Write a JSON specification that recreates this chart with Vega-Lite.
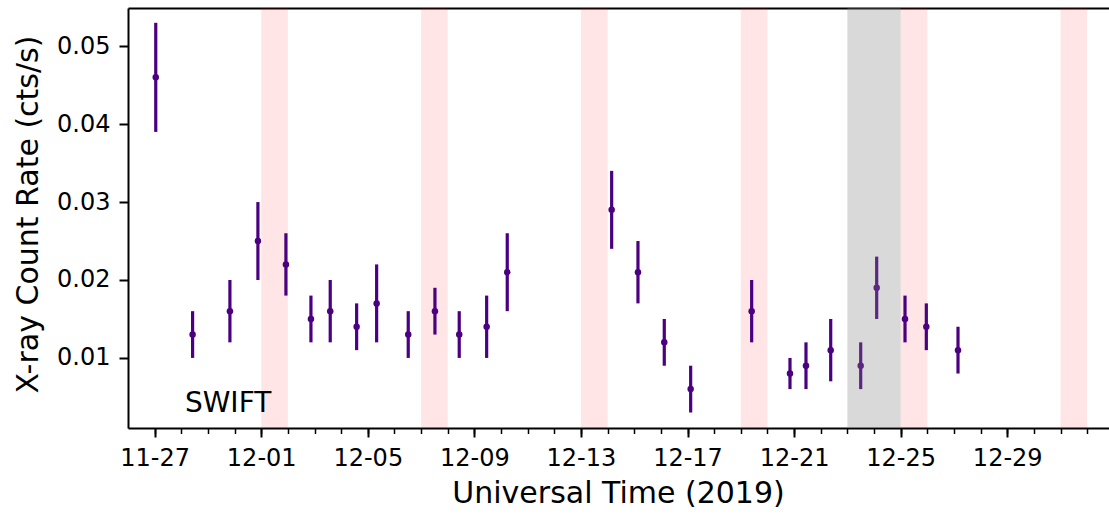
{
  "$schema": "https://vega.github.io/schema/vega-lite/v6.json",
  "width": 981,
  "height": 420,
  "autosize": {"type": "none"},
  "padding": {"left": 128, "top": 8, "right": 0, "bottom": 86},
  "background": "white",
  "config": {"view": {"stroke": null}, "font": "DejaVu Sans"},
  "datasets": {
    "points": [
      {"date": "2019-11-27T01:00:00Z", "rate": 0.046, "lo": 0.039, "hi": 0.053},
      {"date": "2019-11-28T10:12:00Z", "rate": 0.013, "lo": 0.010, "hi": 0.016},
      {"date": "2019-11-29T19:48:00Z", "rate": 0.016, "lo": 0.012, "hi": 0.020},
      {"date": "2019-11-30T21:01:00Z", "rate": 0.025, "lo": 0.020, "hi": 0.030},
      {"date": "2019-12-01T22:15:00Z", "rate": 0.022, "lo": 0.018, "hi": 0.026},
      {"date": "2019-12-02T20:47:00Z", "rate": 0.015, "lo": 0.012, "hi": 0.018},
      {"date": "2019-12-03T14:10:00Z", "rate": 0.016, "lo": 0.012, "hi": 0.020},
      {"date": "2019-12-04T13:57:00Z", "rate": 0.014, "lo": 0.011, "hi": 0.017},
      {"date": "2019-12-05T07:58:00Z", "rate": 0.017, "lo": 0.012, "hi": 0.022},
      {"date": "2019-12-06T12:26:00Z", "rate": 0.013, "lo": 0.010, "hi": 0.016},
      {"date": "2019-12-07T12:29:00Z", "rate": 0.016, "lo": 0.013, "hi": 0.019},
      {"date": "2019-12-08T10:22:00Z", "rate": 0.013, "lo": 0.010, "hi": 0.016},
      {"date": "2019-12-09T11:04:00Z", "rate": 0.014, "lo": 0.010, "hi": 0.018},
      {"date": "2019-12-10T05:37:00Z", "rate": 0.021, "lo": 0.016, "hi": 0.026},
      {"date": "2019-12-14T03:40:00Z", "rate": 0.029, "lo": 0.024, "hi": 0.034},
      {"date": "2019-12-15T03:22:00Z", "rate": 0.021, "lo": 0.017, "hi": 0.025},
      {"date": "2019-12-16T03:04:00Z", "rate": 0.012, "lo": 0.009, "hi": 0.015},
      {"date": "2019-12-17T02:50:00Z", "rate": 0.006, "lo": 0.003, "hi": 0.009},
      {"date": "2019-12-19T09:47:00Z", "rate": 0.016, "lo": 0.012, "hi": 0.020},
      {"date": "2019-12-20T20:18:00Z", "rate": 0.008, "lo": 0.006, "hi": 0.010},
      {"date": "2019-12-21T10:43:00Z", "rate": 0.009, "lo": 0.006, "hi": 0.012},
      {"date": "2019-12-22T08:59:00Z", "rate": 0.011, "lo": 0.007, "hi": 0.015},
      {"date": "2019-12-23T12:00:00Z", "rate": 0.009, "lo": 0.006, "hi": 0.012},
      {"date": "2019-12-24T02:24:00Z", "rate": 0.019, "lo": 0.015, "hi": 0.023},
      {"date": "2019-12-25T03:55:00Z", "rate": 0.015, "lo": 0.012, "hi": 0.018},
      {"date": "2019-12-25T23:07:00Z", "rate": 0.014, "lo": 0.011, "hi": 0.017},
      {"date": "2019-12-27T03:39:00Z", "rate": 0.011, "lo": 0.008, "hi": 0.014}
    ],
    "pink": [
      {"start": "2019-12-01T00:00:00Z", "end": "2019-12-02T00:00:00Z"},
      {"start": "2019-12-07T00:00:00Z", "end": "2019-12-08T00:00:00Z"},
      {"start": "2019-12-13T00:00:00Z", "end": "2019-12-14T00:00:00Z"},
      {"start": "2019-12-19T00:00:00Z", "end": "2019-12-20T00:00:00Z"},
      {"start": "2019-12-25T00:00:00Z", "end": "2019-12-26T00:00:00Z"},
      {"start": "2019-12-31T00:00:00Z", "end": "2020-01-01T00:00:00Z"}
    ],
    "grey": [
      {"start": "2019-12-23T00:00:00Z", "end": "2019-12-25T00:00:00Z"}
    ]
  },
  "resolve": {"axis": {"x": "independent", "y": "independent"}},
  "layer": [
    {
      "data": {"name": "pink"},
      "mark": {"type": "rect", "fill": "red", "opacity": 0.1},
      "encoding": {
        "x": {
          "field": "start", "type": "temporal",
          "scale": {"type": "utc", "domain": [{"year": 2019, "month": 11, "date": 26, "utc": true}, {"year": 2020, "month": 1, "date": 1, "hours": 19, "minutes": 40, "utc": true}]},
          "axis": {
            "orient": "bottom",
            "title": "Universal Time (2019)",
            "labelExpr": "utcFormat(datum.value, '%m-%d')",
            "values": [
              {"year": 2019, "month": 11, "date": 27, "utc": true},
              {"year": 2019, "month": 12, "date": 1, "utc": true},
              {"year": 2019, "month": 12, "date": 5, "utc": true},
              {"year": 2019, "month": 12, "date": 9, "utc": true},
              {"year": 2019, "month": 12, "date": 13, "utc": true},
              {"year": 2019, "month": 12, "date": 17, "utc": true},
              {"year": 2019, "month": 12, "date": 21, "utc": true},
              {"year": 2019, "month": 12, "date": 25, "utc": true},
              {"year": 2019, "month": 12, "date": 29, "utc": true}
            ],
            "grid": false,
            "domain": true, "domainColor": "black", "domainWidth": 2,
            "ticks": true, "tickColor": "black", "tickWidth": 2, "tickSize": 9,
            "labelFontSize": 24, "labelColor": "black", "labelPadding": 9,
            "labelFlush": false, "labelOverlap": false, "labelBound": false,
            "labelBaseline": "top",
            "titleFontSize": 30, "titleFontWeight": "normal", "titleColor": "black",
            "titleBaseline": "alphabetic", "titleX": 490, "titleY": 74, "titleAlign": "center", "titleAnchor": "middle"
          }
        },
        "x2": {"field": "end"}
      }
    },
    {
      "data": {"name": "points"},
      "mark": {"type": "rule", "stroke": "#4b0082", "strokeWidth": 3.2},
      "encoding": {
        "x": {
          "field": "date", "type": "temporal",
          "scale": {"type": "utc", "domain": [{"year": 2019, "month": 11, "date": 26, "utc": true}, {"year": 2020, "month": 1, "date": 1, "hours": 19, "minutes": 40, "utc": true}]},
          "axis": {
            "orient": "bottom",
            "title": null,
            "labels": false,
            "domain": false,
            "grid": false,
            "ticks": true, "tickColor": "black", "tickWidth": 1.5, "tickSize": 5.5,
            "values": [
              {"year": 2019, "month": 11, "date": 27, "utc": true},
              {"year": 2019, "month": 11, "date": 28, "utc": true},
              {"year": 2019, "month": 11, "date": 29, "utc": true},
              {"year": 2019, "month": 11, "date": 30, "utc": true},
              {"year": 2019, "month": 12, "date": 1, "utc": true},
              {"year": 2019, "month": 12, "date": 2, "utc": true},
              {"year": 2019, "month": 12, "date": 3, "utc": true},
              {"year": 2019, "month": 12, "date": 4, "utc": true},
              {"year": 2019, "month": 12, "date": 5, "utc": true},
              {"year": 2019, "month": 12, "date": 6, "utc": true},
              {"year": 2019, "month": 12, "date": 7, "utc": true},
              {"year": 2019, "month": 12, "date": 8, "utc": true},
              {"year": 2019, "month": 12, "date": 9, "utc": true},
              {"year": 2019, "month": 12, "date": 10, "utc": true},
              {"year": 2019, "month": 12, "date": 11, "utc": true},
              {"year": 2019, "month": 12, "date": 12, "utc": true},
              {"year": 2019, "month": 12, "date": 13, "utc": true},
              {"year": 2019, "month": 12, "date": 14, "utc": true},
              {"year": 2019, "month": 12, "date": 15, "utc": true},
              {"year": 2019, "month": 12, "date": 16, "utc": true},
              {"year": 2019, "month": 12, "date": 17, "utc": true},
              {"year": 2019, "month": 12, "date": 18, "utc": true},
              {"year": 2019, "month": 12, "date": 19, "utc": true},
              {"year": 2019, "month": 12, "date": 20, "utc": true},
              {"year": 2019, "month": 12, "date": 21, "utc": true},
              {"year": 2019, "month": 12, "date": 22, "utc": true},
              {"year": 2019, "month": 12, "date": 23, "utc": true},
              {"year": 2019, "month": 12, "date": 24, "utc": true},
              {"year": 2019, "month": 12, "date": 25, "utc": true},
              {"year": 2019, "month": 12, "date": 26, "utc": true},
              {"year": 2019, "month": 12, "date": 27, "utc": true},
              {"year": 2019, "month": 12, "date": 28, "utc": true},
              {"year": 2019, "month": 12, "date": 29, "utc": true},
              {"year": 2019, "month": 12, "date": 30, "utc": true},
              {"year": 2019, "month": 12, "date": 31, "utc": true},
              {"year": 2020, "month": 1, "date": 1, "utc": true}
            ]
          }
        },
        "y": {
          "field": "lo", "type": "quantitative",
          "scale": {"domain": [0.00101, 0.0549], "zero": false, "nice": false},
          "axis": {
            "orient": "left",
            "title": "X-ray Count Rate (cts/s)",
            "values": [0.01, 0.02, 0.03, 0.04, 0.05],
            "format": ".2f",
            "grid": false,
            "domain": true, "domainColor": "black", "domainWidth": 2,
            "ticks": true, "tickColor": "black", "tickWidth": 2, "tickSize": 9,
            "labelFontSize": 24, "labelColor": "black", "labelPadding": 9,
            "labelFlush": false, "labelOverlap": false, "labelBound": false,
            "titleFontSize": 30, "titleFontWeight": "normal", "titleColor": "black",
            "titleAngle": -90, "titleBaseline": "alphabetic", "titleX": -90.5, "titleY": 206, "titleAlign": "center", "titleAnchor": "middle"
          }
        },
        "y2": {"field": "hi"}
      }
    },
    {
      "data": {"name": "points"},
      "mark": {"type": "circle", "color": "#4b0082", "opacity": 1, "size": 42},
      "encoding": {
        "x": {
          "field": "date", "type": "temporal",
          "scale": {"type": "utc", "domain": [{"year": 2019, "month": 11, "date": 26, "utc": true}, {"year": 2020, "month": 1, "date": 1, "hours": 19, "minutes": 40, "utc": true}]},
          "axis": {
            "orient": "top", "title": null, "labels": false, "ticks": false, "grid": false,
            "domain": true, "domainColor": "black", "domainWidth": 2
          }
        },
        "y": {
          "field": "rate", "type": "quantitative",
          "scale": {"domain": [0.00101, 0.0549], "zero": false, "nice": false},
          "axis": null
        }
      }
    },
    {
      "data": {"name": "grey"},
      "mark": {"type": "rect", "fill": "gray", "opacity": 0.3},
      "encoding": {
        "x": {
          "field": "start", "type": "temporal",
          "scale": {"type": "utc", "domain": [{"year": 2019, "month": 11, "date": 26, "utc": true}, {"year": 2020, "month": 1, "date": 1, "hours": 19, "minutes": 40, "utc": true}]},
          "axis": null
        },
        "x2": {"field": "end"}
      }
    },
    {
      "data": {"values": [{"label": "SWIFT"}]},
      "mark": {"type": "text", "align": "left", "baseline": "alphabetic", "fontSize": 28, "color": "black", "font": "DejaVu Sans"},
      "encoding": {
        "x": {
          "datum": {"year": 2019, "month": 11, "date": 28, "hours": 3, "minutes": 16, "utc": true},
          "type": "temporal",
          "axis": null
        },
        "y": {"datum": 0.00302, "type": "quantitative", "axis": null},
        "text": {"field": "label"}
      }
    }
  ]
}
